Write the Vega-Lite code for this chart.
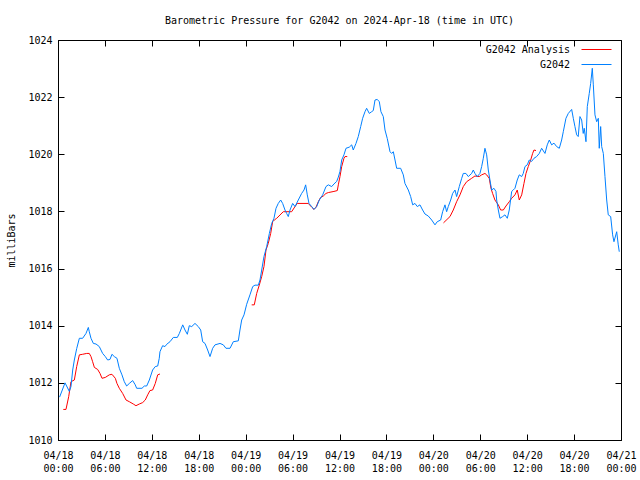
{
  "$schema": "https://vega.github.io/schema/vega-lite/v6.json",
  "width": 563,
  "height": 400,
  "autosize": {"type": "none"},
  "padding": {"left": 58, "top": 40, "right": 19, "bottom": 40},
  "background": "white",
  "title": {"text": "Barometric Pressure for G2042 on 2024-Apr-18 (time in UTC)", "font": "DejaVu Sans Mono", "fontSize": 10, "fontWeight": "normal", "offset": 9, "color": "black"},
  "datasets": {
    "obs": [
      {"t":0.2,"p":1011.5},{"t":0.9,"p":1012.0},{"t":1.45,"p":1011.7},{"t":1.66,"p":1011.87},{"t":1.88,"p":1012.45},{"t":2.09,"p":1012.8},{"t":2.39,"p":1013.2},{"t":2.73,"p":1013.56},{"t":3.15,"p":1013.56},{"t":3.58,"p":1013.73},{"t":3.88,"p":1013.94},{"t":4.0,"p":1013.79},{"t":4.22,"p":1013.56},{"t":4.52,"p":1013.38},{"t":4.86,"p":1013.36},{"t":5.28,"p":1013.27},{"t":5.71,"p":1013.03},{"t":6.05,"p":1012.92},{"t":6.35,"p":1012.8},{"t":6.65,"p":1012.82},{"t":6.9,"p":1013.0},{"t":7.2,"p":1012.92},{"t":7.54,"p":1012.86},{"t":7.84,"p":1012.51},{"t":8.18,"p":1012.28},{"t":8.48,"p":1012.04},{"t":8.78,"p":1011.89},{"t":9.12,"p":1011.98},{"t":9.55,"p":1012.08},{"t":9.88,"p":1011.93},{"t":10.06,"p":1011.81},{"t":10.74,"p":1011.81},{"t":11.04,"p":1011.89},{"t":11.34,"p":1011.89},{"t":11.68,"p":1012.1},{"t":12.1,"p":1012.45},{"t":12.44,"p":1012.57},{"t":12.75,"p":1012.59},{"t":12.95,"p":1012.86},{"t":13.04,"p":1013.09},{"t":13.38,"p":1013.3},{"t":13.68,"p":1013.27},{"t":13.9,"p":1013.35},{"t":14.32,"p":1013.44},{"t":14.75,"p":1013.59},{"t":15.26,"p":1013.59},{"t":15.52,"p":1013.73},{"t":15.95,"p":1014.03},{"t":16.24,"p":1013.85},{"t":16.54,"p":1013.7},{"t":16.79,"p":1014.0},{"t":17.1,"p":1013.97},{"t":17.52,"p":1014.08},{"t":17.94,"p":1013.97},{"t":18.25,"p":1013.85},{"t":18.5,"p":1013.44},{"t":18.8,"p":1013.38},{"t":19.14,"p":1013.15},{"t":19.44,"p":1012.92},{"t":19.78,"p":1013.21},{"t":20.08,"p":1013.33},{"t":20.72,"p":1013.38},{"t":21.14,"p":1013.33},{"t":21.48,"p":1013.21},{"t":22.0,"p":1013.21},{"t":22.42,"p":1013.44},{"t":23.06,"p":1013.47},{"t":23.27,"p":1013.85},{"t":23.49,"p":1014.2},{"t":23.79,"p":1014.38},{"t":24.13,"p":1014.75},{"t":24.55,"p":1015.08},{"t":24.9,"p":1015.37},{"t":25.19,"p":1015.42},{"t":25.62,"p":1015.42},{"t":25.83,"p":1015.6},{"t":26.05,"p":1015.95},{"t":26.34,"p":1016.42},{"t":26.69,"p":1016.77},{"t":27.03,"p":1017.23},{"t":27.33,"p":1017.58},{"t":27.62,"p":1017.76},{"t":27.88,"p":1018.11},{"t":28.17,"p":1018.28},{"t":28.48,"p":1018.4},{"t":28.73,"p":1018.28},{"t":29.03,"p":1018.05},{"t":29.24,"p":1017.93},{"t":29.45,"p":1017.82},{"t":29.67,"p":1018.05},{"t":30.01,"p":1018.28},{"t":30.31,"p":1018.17},{"t":30.73,"p":1018.4},{"t":31.16,"p":1018.63},{"t":31.46,"p":1018.75},{"t":31.67,"p":1018.93},{"t":31.88,"p":1018.58},{"t":32.1,"p":1018.28},{"t":32.44,"p":1018.17},{"t":32.74,"p":1018.07},{"t":33.08,"p":1018.17},{"t":33.42,"p":1018.4},{"t":33.85,"p":1018.58},{"t":34.27,"p":1018.87},{"t":34.57,"p":1018.93},{"t":35.0,"p":1018.87},{"t":35.29,"p":1018.96},{"t":35.64,"p":1019.05},{"t":35.85,"p":1019.2},{"t":36.06,"p":1019.4},{"t":36.28,"p":1019.8},{"t":36.57,"p":1019.98},{"t":36.83,"p":1020.21},{"t":37.25,"p":1020.25},{"t":37.56,"p":1020.33},{"t":37.76,"p":1020.15},{"t":38.11,"p":1020.38},{"t":38.4,"p":1020.62},{"t":38.71,"p":1020.97},{"t":38.96,"p":1021.26},{"t":39.26,"p":1021.49},{"t":39.47,"p":1021.61},{"t":39.81,"p":1021.43},{"t":40.11,"p":1021.49},{"t":40.32,"p":1021.53},{"t":40.54,"p":1021.9},{"t":40.83,"p":1021.92},{"t":41.09,"p":1021.84},{"t":41.3,"p":1021.49},{"t":41.6,"p":1021.32},{"t":41.82,"p":1020.85},{"t":42.11,"p":1020.55},{"t":42.46,"p":1020.09},{"t":42.67,"p":1020.03},{"t":42.88,"p":1020.09},{"t":43.1,"p":1019.8},{"t":43.31,"p":1019.51},{"t":43.82,"p":1019.51},{"t":44.16,"p":1019.28},{"t":44.37,"p":1018.98},{"t":44.8,"p":1018.75},{"t":45.1,"p":1018.52},{"t":45.36,"p":1018.23},{"t":45.65,"p":1018.28},{"t":45.95,"p":1018.17},{"t":46.29,"p":1018.23},{"t":46.63,"p":1018.05},{"t":46.93,"p":1017.91},{"t":47.35,"p":1017.84},{"t":47.79,"p":1017.7},{"t":48.21,"p":1017.53},{"t":48.5,"p":1017.64},{"t":48.94,"p":1017.7},{"t":49.19,"p":1017.99},{"t":49.49,"p":1018.23},{"t":49.7,"p":1017.99},{"t":49.91,"p":1018.17},{"t":50.22,"p":1018.4},{"t":50.47,"p":1018.63},{"t":50.77,"p":1018.75},{"t":50.98,"p":1018.52},{"t":51.32,"p":1018.87},{"t":51.63,"p":1019.16},{"t":51.83,"p":1019.33},{"t":52.17,"p":1019.33},{"t":52.47,"p":1019.22},{"t":52.9,"p":1019.33},{"t":53.11,"p":1019.45},{"t":53.32,"p":1019.33},{"t":53.62,"p":1019.22},{"t":53.96,"p":1019.33},{"t":54.18,"p":1019.57},{"t":54.39,"p":1019.86},{"t":54.6,"p":1020.21},{"t":54.82,"p":1019.98},{"t":55.03,"p":1019.45},{"t":55.24,"p":1019.1},{"t":55.46,"p":1018.75},{"t":55.75,"p":1018.81},{"t":56.01,"p":1018.7},{"t":56.1,"p":1018.4},{"t":56.31,"p":1018.05},{"t":56.52,"p":1017.76},{"t":56.87,"p":1017.82},{"t":57.16,"p":1017.88},{"t":57.46,"p":1017.76},{"t":57.71,"p":1018.05},{"t":58.02,"p":1018.7},{"t":58.22,"p":1018.75},{"t":58.44,"p":1018.81},{"t":58.73,"p":1019.1},{"t":58.99,"p":1019.28},{"t":59.3,"p":1019.22},{"t":59.5,"p":1019.33},{"t":59.72,"p":1019.57},{"t":60.01,"p":1019.63},{"t":60.27,"p":1019.8},{"t":60.57,"p":1019.75},{"t":60.87,"p":1019.86},{"t":61.21,"p":1019.92},{"t":61.55,"p":1020.03},{"t":61.85,"p":1020.21},{"t":62.28,"p":1020.03},{"t":62.57,"p":1020.33},{"t":62.83,"p":1020.5},{"t":63.13,"p":1020.33},{"t":63.43,"p":1020.39},{"t":63.77,"p":1020.27},{"t":64.11,"p":1020.21},{"t":64.41,"p":1020.5},{"t":64.62,"p":1020.79},{"t":64.96,"p":1021.26},{"t":65.26,"p":1021.43},{"t":65.69,"p":1021.57},{"t":65.9,"p":1021.26},{"t":66.11,"p":1020.97},{"t":66.33,"p":1020.68},{"t":66.53,"p":1020.62},{"t":66.75,"p":1021.32},{"t":66.97,"p":1021.2},{"t":67.17,"p":1020.73},{"t":67.3,"p":1020.91},{"t":67.52,"p":1020.44},{"t":67.69,"p":1021.67},{"t":67.94,"p":1022.13},{"t":68.12,"p":1022.48},{"t":68.33,"p":1023.01},{"t":68.46,"p":1022.43},{"t":68.67,"p":1021.38},{"t":68.89,"p":1021.14},{"t":69.1,"p":1021.26},{"t":69.22,"p":1020.21},{"t":69.4,"p":1020.97},{"t":69.53,"p":1020.27},{"t":69.74,"p":1020.03},{"t":69.95,"p":1019.22},{"t":70.17,"p":1018.4},{"t":70.37,"p":1017.88},{"t":70.68,"p":1017.82},{"t":70.93,"p":1017.18},{"t":71.1,"p":1016.94},{"t":71.45,"p":1017.29},{"t":71.65,"p":1016.83},{"t":71.78,"p":1016.59}
    ],
    "ana": [
      {"g":1,"t":0.68,"p":1011.07},{"g":1,"t":1.02,"p":1011.07},{"g":1,"t":1.37,"p":1011.52},{"g":1,"t":1.66,"p":1012.04},{"g":1,"t":2.09,"p":1012.1},{"g":1,"t":2.39,"p":1012.57},{"g":1,"t":2.73,"p":1012.98},{"g":1,"t":3.15,"p":1013.0},{"g":1,"t":3.67,"p":1013.03},{"g":1,"t":4.0,"p":1013.03},{"g":1,"t":4.22,"p":1012.92},{"g":1,"t":4.43,"p":1012.74},{"g":1,"t":4.65,"p":1012.54},{"g":1,"t":5.07,"p":1012.47},{"g":1,"t":5.37,"p":1012.33},{"g":1,"t":5.63,"p":1012.16},{"g":1,"t":6.05,"p":1012.19},{"g":1,"t":6.56,"p":1012.28},{"g":1,"t":6.9,"p":1012.3},{"g":1,"t":7.33,"p":1012.16},{"g":1,"t":7.54,"p":1011.98},{"g":1,"t":7.84,"p":1011.81},{"g":1,"t":8.27,"p":1011.63},{"g":1,"t":8.7,"p":1011.4},{"g":1,"t":9.12,"p":1011.34},{"g":1,"t":9.63,"p":1011.26},{"g":1,"t":9.97,"p":1011.2},{"g":1,"t":10.4,"p":1011.26},{"g":1,"t":10.83,"p":1011.31},{"g":1,"t":11.16,"p":1011.4},{"g":1,"t":11.47,"p":1011.58},{"g":1,"t":11.76,"p":1011.73},{"g":1,"t":12.1,"p":1011.75},{"g":1,"t":12.44,"p":1011.98},{"g":1,"t":12.75,"p":1012.28},{"g":1,"t":13.04,"p":1012.31},
      {"g":2,"t":24.77,"p":1014.73},{"g":2,"t":25.1,"p":1014.73},{"g":2,"t":25.41,"p":1015.13},{"g":2,"t":25.74,"p":1015.42},{"g":2,"t":26.05,"p":1015.72},{"g":2,"t":26.34,"p":1016.07},{"g":2,"t":26.6,"p":1016.65},{"g":2,"t":26.89,"p":1016.88},{"g":2,"t":27.2,"p":1017.23},{"g":2,"t":27.45,"p":1017.64},{"g":2,"t":27.66,"p":1017.7},{"g":2,"t":27.97,"p":1017.76},{"g":2,"t":28.81,"p":1017.99},{"g":2,"t":29.88,"p":1017.99},{"g":2,"t":30.31,"p":1018.17},{"g":2,"t":30.6,"p":1018.28},{"g":2,"t":32.01,"p":1018.28},{"g":2,"t":32.44,"p":1018.15},{"g":2,"t":32.74,"p":1018.07},{"g":2,"t":33.0,"p":1018.15},{"g":2,"t":33.29,"p":1018.34},{"g":2,"t":33.59,"p":1018.49},{"g":2,"t":33.93,"p":1018.54},{"g":2,"t":34.27,"p":1018.63},{"g":2,"t":34.57,"p":1018.66},{"g":2,"t":35.29,"p":1018.7},{"g":2,"t":35.72,"p":1018.73},{"g":2,"t":35.85,"p":1018.93},{"g":2,"t":36.06,"p":1019.22},{"g":2,"t":36.28,"p":1019.57},{"g":2,"t":36.57,"p":1019.86},{"g":2,"t":36.7,"p":1019.92},{"g":2,"t":36.99,"p":1019.92},
      {"g":3,"t":49.3,"p":1017.6},{"g":3,"t":50.13,"p":1017.82},{"g":3,"t":50.55,"p":1018.05},{"g":3,"t":50.98,"p":1018.34},{"g":3,"t":51.41,"p":1018.58},{"g":3,"t":51.83,"p":1018.87},{"g":3,"t":52.26,"p":1019.04},{"g":3,"t":52.9,"p":1019.16},{"g":3,"t":53.32,"p":1019.24},{"g":3,"t":53.87,"p":1019.22},{"g":3,"t":54.18,"p":1019.28},{"g":3,"t":54.6,"p":1019.33},{"g":3,"t":54.82,"p":1019.28},{"g":3,"t":55.15,"p":1019.16},{"g":3,"t":55.37,"p":1018.81},{"g":3,"t":55.58,"p":1018.63},{"g":3,"t":55.88,"p":1018.4},{"g":3,"t":56.31,"p":1018.23},{"g":3,"t":56.61,"p":1018.05},{"g":3,"t":56.95,"p":1018.05},{"g":3,"t":57.29,"p":1018.19},{"g":3,"t":57.71,"p":1018.34},{"g":3,"t":58.02,"p":1018.46},{"g":3,"t":58.44,"p":1018.58},{"g":3,"t":58.73,"p":1018.75},{"g":3,"t":58.99,"p":1018.4},{"g":3,"t":59.3,"p":1018.58},{"g":3,"t":59.59,"p":1018.98},{"g":3,"t":59.85,"p":1019.33},{"g":3,"t":60.14,"p":1019.57},{"g":3,"t":60.45,"p":1019.8},{"g":3,"t":60.7,"p":1020.03},{"g":3,"t":60.87,"p":1020.15},{"g":3,"t":61.13,"p":1020.13}
    ]
  },
  "layer": [
    {
      "data": {"name": "ana"},
      "mark": {"type": "line", "strokeWidth": 1},
      "encoding": {
        "x": {"field": "t", "type": "quantitative", "scale": {"domain": [0, 72], "nice": false, "zero": false},
          "axis": {"orient": "bottom", "title": null, "values": [0,6,12,18,24,30,36,42,48,54,60,66,72], "tickSize": -6, "labelPadding": 16,
            "labelExpr": "['04/' + (18 + floor(datum.value / 24)), pad(datum.value % 24, 2, '0', 'left') + ':00']", "labelLineHeight": 13, "labelFlush": false}},
        "y": {"field": "p", "type": "quantitative", "scale": {"domain": [1010, 1024], "nice": false, "zero": false},
          "axis": {"orient": "left", "title": "milliBars", "format": "d", "values": [1010,1012,1014,1016,1018,1020,1022,1024], "tickSize": -6, "labelPadding": 12, "titlePadding": 11, "labelFlush": false}},
        "detail": {"field": "g", "type": "nominal"},
        "color": {"datum": "G2042 Analysis", "type": "nominal",
          "scale": {"domain": ["G2042 Analysis", "G2042"], "range": ["#ff0000", "#0080ff"]},
          "legend": {"title": null, "orient": "none", "legendX": 533, "legendY": 4, "symbolType": "M-3,0H3", "symbolSize": 100, "symbolStrokeWidth": 1, "labelAlign": "right", "labelOffset": -32, "padding": 0, "rowPadding": 4}}
      }
    },
    {
      "data": {"name": "obs"},
      "mark": {"type": "line", "strokeWidth": 1},
      "encoding": {
        "x": {"field": "t", "type": "quantitative", "axis": {"orient": "top", "title": null, "labels": false, "domain": false, "values": [0,6,12,18,24,30,36,42,48,54,60,66,72], "tickSize": -6}},
        "y": {"field": "p", "type": "quantitative", "axis": {"orient": "right", "title": null, "labels": false, "domain": false, "values": [1010,1012,1014,1016,1018,1020,1022,1024], "tickSize": -6}},
        "color": {"datum": "G2042", "type": "nominal"}
      }
    }
  ],
  "resolve": {"axis": {"x": "independent", "y": "independent"}},
  "config": {
    "view": {"stroke": "black", "strokeWidth": 1},
    "axis": {"grid": false, "domainColor": "black", "tickColor": "black", "labelColor": "black", "labelFont": "DejaVu Sans Mono", "labelFontSize": 10, "titleFont": "DejaVu Sans Mono", "titleFontSize": 10, "titleFontWeight": "normal", "titleColor": "black"},
    "legend": {"labelFont": "DejaVu Sans Mono", "labelFontSize": 10, "labelColor": "black"}
  }
}
